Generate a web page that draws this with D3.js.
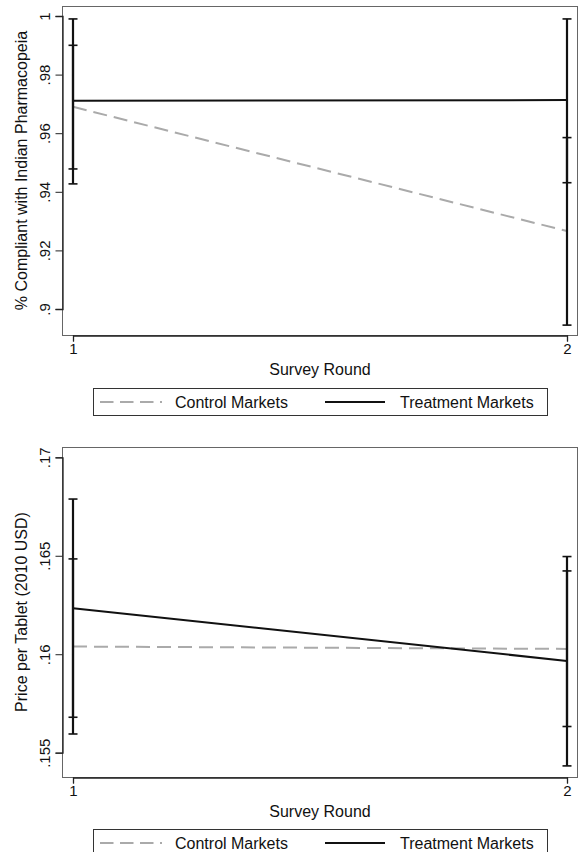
<!DOCTYPE html>
<html><head><meta charset="utf-8">
<script src="https://cdn.jsdelivr.net/npm/d3@7"></script>
<style>body{margin:0;background:#fff}svg{display:block}text{font-family:"Liberation Sans",Arial,sans-serif;fill:#111}</style>
</head><body>
<svg id="c" width="581" height="852"></svg>
<script>
const rounds = [1, 2];
const seriesNames = ["Control Markets", "Treatment Markets"];
// Panel A: % compliant
const aControl = [0.9690, 0.9266];
const aControlLo = [0.9478, 0.8945];
const aControlHi = [0.9900, 0.9585];
const aTreat = [0.9711, 0.9713];
const aTreatLo = [0.9427, 0.9431];
const aTreatHi = [0.9990, 0.9990];
const aTicks = [0.9, 0.92, 0.94, 0.96, 0.98, 1];
const aTickLabels = [".9", ".92", ".94", ".96", ".98", "1"];
// Panel B: price
const bControl = [0.16039, 0.16027];
const bControlLo = [0.15595, 0.15633];
const bControlHi = [0.16484, 0.16423];
const bTreat = [0.16234, 0.15966];
const bTreatLo = [0.15680, 0.15433];
const bTreatHi = [0.16788, 0.16496];
const bTicks = [0.155, 0.16, 0.165, 0.17];
const bTickLabels = [".155", ".16", ".165", ".17"];

const svg = d3.select("#c");

function panel(cfg) {
  const g = svg.append("g");
  const x = d3.scaleLinear().domain([1, 2]).range([73, 567]);
  const y = d3.scaleLinear().domain(cfg.ydom).range(cfg.yrange);
  const top = cfg.box[0], bot = cfg.box[1];
  // plot region frame
  g.append("rect").attr("x", 62.5).attr("y", top + 0.5).attr("width", 515).attr("height", bot - top)
    .attr("fill", "none").attr("stroke", "#666").attr("stroke-width", 1);
  // y axis
  const ya = g.append("g").attr("transform", "translate(62.5,0)")
    .call(d3.axisLeft(y).tickValues(cfg.ticks).tickSize(7).tickPadding(8).tickFormat((d, i) => cfg.labels[i]));
  ya.select(".domain").attr("stroke", "#222").attr("stroke-width", 1.3);
  ya.selectAll(".tick line").attr("stroke", "#222");
  ya.selectAll(".tick text").attr("transform", "rotate(-90)").attr("x", 0).attr("y", -13)
    .attr("text-anchor", "middle").attr("dy", "0").style("font-size", "15px").style("font-family", "Liberation Sans, Arial, sans-serif").attr("fill", "#111");
  // x axis
  const xa = g.append("g").attr("transform", `translate(0,${bot + 0.5})`)
    .call(d3.axisBottom(x).tickValues(rounds).tickSize(6).tickPadding(2).tickFormat(d3.format("d")));
  xa.select(".domain").attr("stroke", "#222").attr("stroke-width", 1.3);
  xa.selectAll(".tick line").attr("stroke", "#222");
  xa.selectAll(".tick text").style("font-size", "15px").style("font-family", "Liberation Sans, Arial, sans-serif").attr("fill", "#111");
  // axis titles
  g.append("text").attr("transform", `translate(26.5,${(top + bot) / 2}) rotate(-90)`)
    .attr("text-anchor", "middle").style("font-size", "16px").text(cfg.ytitle);
  g.append("text").attr("x", 320).attr("y", bot + 39.5).attr("text-anchor", "middle").style("font-size", "16px").text("Survey Round");

  // control line
  const line = d3.line().x((d, i) => x(rounds[i])).y(d => y(d));
  g.append("path").datum(cfg.control).attr("d", line).attr("fill", "none")
    .attr("stroke", "#aaaaaa").attr("stroke-width", 2).attr("stroke-dasharray", "14,7");
  g.append("path").datum(cfg.treat).attr("d", line).attr("fill", "none")
    .attr("stroke", "#111").attr("stroke-width", 2);
  // error bars
  const bars = [];
  rounds.forEach((r, i) => {
    bars.push({ r, lo: cfg.cLo[i], hi: cfg.cHi[i] });
    bars.push({ r, lo: cfg.tLo[i], hi: cfg.tHi[i] });
  });
  bars.forEach(b => {
    const xx = x(b.r);
    g.append("line").attr("x1", xx).attr("x2", xx).attr("y1", y(b.lo)).attr("y2", y(b.hi)).attr("stroke", "#111").attr("stroke-width", 2.2);
    [b.lo, b.hi].forEach(v => g.append("line").attr("x1", xx - 4.5).attr("x2", xx + 4.5).attr("y1", y(v)).attr("y2", y(v)).attr("stroke", "#111").attr("stroke-width", 1.6));
  });

  // legend
  const ly = cfg.legendY;
  const lg = g.append("g");
  lg.append("rect").attr("x", 93.5).attr("y", ly + 0.5).attr("width", 454).attr("height", 27).attr("fill", "#fff").attr("stroke", "#333").attr("stroke-width", 1);
  lg.append("line").attr("x1", 100).attr("x2", 162).attr("y1", ly + 14).attr("y2", ly + 14)
    .attr("stroke", "#aaaaaa").attr("stroke-width", 2).attr("stroke-dasharray", "13.5,6.5");
  lg.append("text").attr("x", 175).attr("y", ly + 20).style("font-size", "16px").text(seriesNames[0]);
  lg.append("line").attr("x1", 325).attr("x2", 385).attr("y1", ly + 14).attr("y2", ly + 14)
    .attr("stroke", "#111").attr("stroke-width", 2.2);
  lg.append("text").attr("x", 400).attr("y", ly + 20).style("font-size", "16px").text(seriesNames[1]);
}

panel({
  ydom: [0.9, 1], yrange: [309, 16], box: [6, 335], ticks: aTicks, labels: aTickLabels,
  ytitle: "% Compliant with Indian Pharmacopeia",
  control: aControl, treat: aTreat, cLo: aControlLo, cHi: aControlHi, tLo: aTreatLo, tHi: aTreatHi,
  legendY: 388
});
panel({
  ydom: [0.155, 0.17], yrange: [752.7, 457.3], box: [447, 777], ticks: bTicks, labels: bTickLabels,
  ytitle: "Price per Tablet (2010 USD)",
  control: bControl, treat: bTreat, cLo: bControlLo, cHi: bControlHi, tLo: bTreatLo, tHi: bTreatHi,
  legendY: 829
});
</script>
</body></html>
